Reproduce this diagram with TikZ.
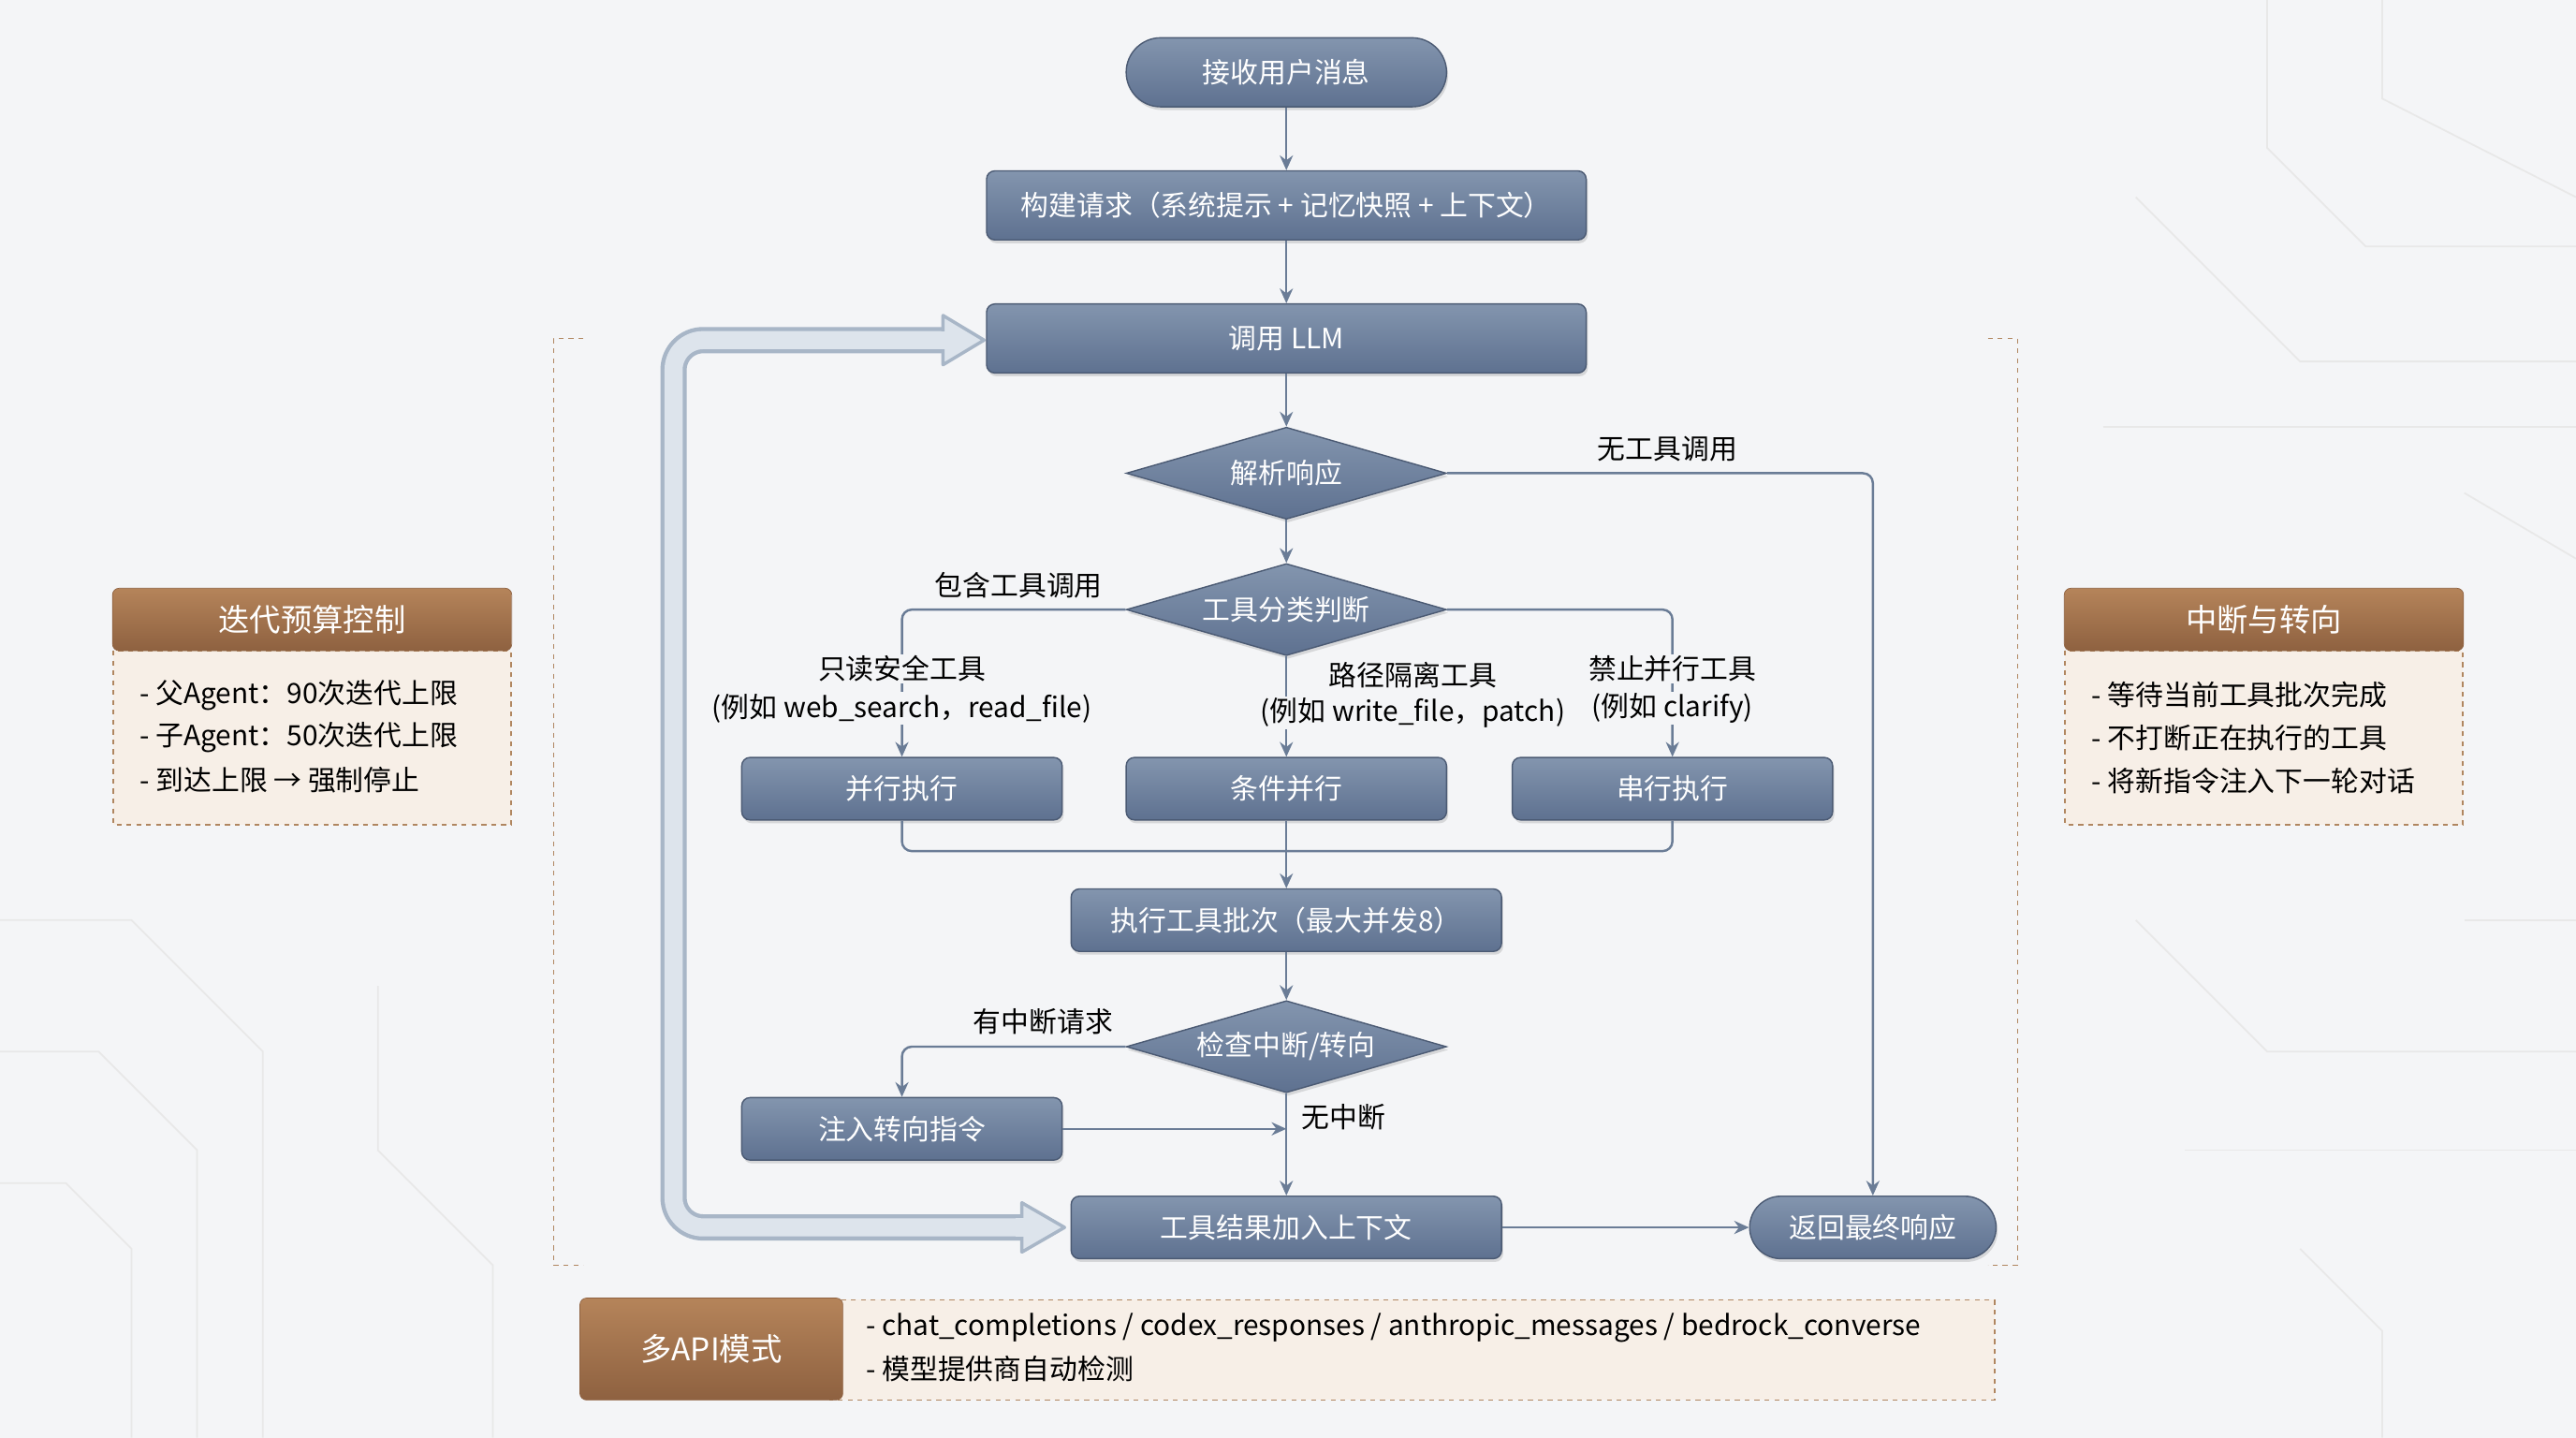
\documentclass[tikz,border=0pt]{standalone}
\usepackage{fontspec}
\setmainfont{Noto Sans CJK SC}
\usetikzlibrary{arrows.meta,shapes.geometric,shadows}
\definecolor{nodeA}{HTML}{8395AE}
\definecolor{nodeB}{HTML}{5E7190}
\definecolor{edge}{HTML}{6A7C96}
\definecolor{brownA}{HTML}{B5845A}
\definecolor{brownB}{HTML}{8E6140}
\definecolor{beige}{HTML}{F7EFE7}
\definecolor{dashc}{HTML}{B08660}
\definecolor{bg}{HTML}{F4F5F7}
\definecolor{loopf}{HTML}{DDE4EC}
\definecolor{loopb}{HTML}{A8B6C7}
\begin{document}
\begin{tikzpicture}[x=1pt,y=-1pt,
  every node/.style={font=\fontsize{17}{20}\selectfont},
  box/.style={draw=nodeB!80!black,line width=0.8pt,top color=nodeA,bottom color=nodeB,text=white,rounded corners=5pt,minimum height=42pt,drop shadow={opacity=0.25,shadow xshift=1pt,shadow yshift=-2pt}},
  pill/.style={box,rounded corners=21pt},
  dia/.style={diamond,aspect=3.6,draw=nodeB!80!black,line width=0.8pt,top color=nodeA,bottom color=nodeB,text=white,minimum width=195pt,minimum height=56pt,inner sep=0pt,drop shadow={opacity=0.25,shadow xshift=1pt,shadow yshift=-2pt}},
  lbl/.style={text=black,inner sep=1pt},
  con/.style={draw=edge,line width=1.4pt},
  arr/.style={con,-{Stealth[length=9pt,width=8pt]}},
  hdr/.style={draw=brownB,top color=brownA,bottom color=brownB,text=white,rounded corners=4pt},
  bodybox/.style={draw=dashc,dashed,line width=0.9pt,fill=beige},
  line/.style={anchor=west,inner sep=0pt,text=black}]
\useasboundingbox (0,0) rectangle (1568,875);
\fill[bg] (0,0) rectangle (1568,875);
\begin{scope}[draw=gray!18,line width=1pt]
\draw (1450,0) -- (1450,60) -- (1568,120);
\draw (1380,0) -- (1380,90) -- (1440,150) -- (1568,150);
\draw (1300,120) -- (1400,220) -- (1568,220);
\draw (1280,260) -- (1568,260);
\draw (1500,300) -- (1568,340);
\draw (0,560) -- (80,560) -- (160,640) -- (160,875);
\draw (0,640) -- (60,640) -- (120,700) -- (120,875);
\draw (0,720) -- (40,720) -- (80,760) -- (80,875);
\draw (230,600) -- (230,700) -- (300,770) -- (300,875);
\draw (1300,560) -- (1380,640) -- (1568,640);
\draw (1330,700) -- (1568,700);
\draw (1400,760) -- (1450,810) -- (1450,875);
\draw (1500,560) -- (1568,560);
\end{scope}
\draw[dashc,dashed,line width=0.9pt] (355,206) -- (337,206) -- (337,770) -- (355,770);
\draw[dashc,dashed,line width=0.9pt] (1210,206) -- (1228,206) -- (1228,770) -- (1210,770);

\draw[loopb,line width=16pt,line join=round,rounded corners=18pt] (630,747) -- (410,747) -- (410,207) -- (580,207);
\draw[loopf,line width=11pt,line join=round,rounded corners=18pt] (629,747) -- (410,747) -- (410,207) -- (579,207);
\filldraw[fill=loopf,draw=loopb,line width=2pt,line join=round] (622,732) -- (648,747) -- (622,762) -- cycle;
\filldraw[fill=loopf,draw=loopb,line width=2pt,line join=round] (574,192) -- (599,207) -- (574,222) -- cycle;
\fill[loopf] (618,741.5) rectangle (624,752.5);
\fill[loopf] (570,201.5) rectangle (576,212.5);

\node[pill,minimum width=195pt] (recv) at (783,44) {接收用户消息};
\node[box,minimum width=365pt] (build) at (783,125) {构建请求（系统提示 + 记忆快照 + 上下文）};
\node[box,minimum width=365pt] (llm) at (783,206) {调用 LLM};
\node[dia] (parse) at (783,288) {解析响应};
\node[dia] (cls) at (783,371) {工具分类判断};
\node[box,minimum width=195pt,minimum height=38pt] (par) at (549,480) {并行执行};
\node[box,minimum width=195pt,minimum height=38pt] (cond) at (783,480) {条件并行};
\node[box,minimum width=195pt,minimum height=38pt] (ser) at (1018,480) {串行执行};
\node[box,minimum width=262pt,minimum height=38pt] (batch) at (783,560) {执行工具批次（最大并发8）};
\node[dia] (chk) at (783,637) {检查中断/转向};
\node[box,minimum width=195pt,minimum height=38pt] (inj) at (549,687) {注入转向指令};
\node[box,minimum width=262pt,minimum height=38pt] (res) at (783,747) {工具结果加入上下文};
\node[pill,minimum width=150pt,minimum height=38pt,rounded corners=19pt] (ret) at (1140,747) {返回最终响应};

\draw[arr] (recv) -- (build);
\draw[arr] (build) -- (llm);
\draw[arr] (llm) -- (parse);
\draw[arr] (parse) -- (cls);
\draw[arr,rounded corners=6pt] (parse.east) -- (1140,288) -- (ret.north);
\node[lbl] (l1) at (1015,273) {无工具调用};
\draw[arr,rounded corners=6pt] (cls.west) -- (549,371) -- (par.north);
\node[lbl] (l2) at (620,356) {包含工具调用};
\draw[arr] (cls.south) -- (cond.north);
\draw[arr,rounded corners=6pt] (cls.east) -- (1018,371) -- (ser.north);
\node[lbl,fill=bg] (t1) at (549,407) {只读安全工具};
\node[lbl,fill=bg] (t2) at (549,431) {(例如 web\_search，read\_file)};
\node[lbl,fill=bg] (t3) at (860,411) {路径隔离工具};
\node[lbl,fill=bg] (t4) at (860,434) {(例如 write\_file，patch)};
\node[lbl,fill=bg] (t5) at (1018,407) {禁止并行工具};
\node[lbl,fill=bg] (t6) at (1018,431) {(例如 clarify)};
\draw[con,rounded corners=6pt] (par.south) -- (549,518) -- (783,518);
\draw[con,rounded corners=6pt] (ser.south) -- (1018,518) -- (783,518);
\draw[arr] (cond.south) -- (batch.north);
\draw[arr] (batch) -- (chk);
\draw[arr,rounded corners=6pt] (chk.west) -- (549,637) -- (inj.north);
\node[lbl] (l3) at (635,622) {有中断请求};
\draw[arr] (inj.east) -- (783,687);
\node[lbl] (l4) at (818,680) {无中断};
\draw[arr] (chk.south) -- (res.north);
\draw[arr] (res.east) -- (ret.west);

\draw[bodybox] (69,396) rectangle (311,502);
\node[hdr,minimum width=243pt,minimum height=38pt,font=\fontsize{19}{22}\selectfont] (lh) at (190,377) {迭代预算控制};
\node[line] (la) at (85,423) {- 父Agent：90次迭代上限};
\node[line] (lb) at (85,449) {- 子Agent：50次迭代上限};
\node[line] (lc) at (85,475) {- 到达上限 → 强制停止};

\draw[bodybox] (1257,396) rectangle (1499,502);
\node[hdr,minimum width=243pt,minimum height=38pt,font=\fontsize{19}{22}\selectfont] (rh) at (1378,377) {中断与转向};
\node[line] (ra) at (1273,423) {- 等待当前工具批次完成};
\node[line] (rb) at (1273,449) {- 不打断正在执行的工具};
\node[line] (rc) at (1273,475) {- 将新指令注入下一轮对话};

\draw[bodybox] (505,791) rectangle (1214,852);
\node[hdr,minimum width=160pt,minimum height=62pt,font=\fontsize{19}{22}\selectfont] (bh) at (433,821) {多API模式};
\node[line] (ba) at (527,808) {- chat\_completions / codex\_responses / anthropic\_messages / bedrock\_converse};
\node[line] (bb) at (527,833) {- 模型提供商自动检测};
\end{tikzpicture}
\end{document}
